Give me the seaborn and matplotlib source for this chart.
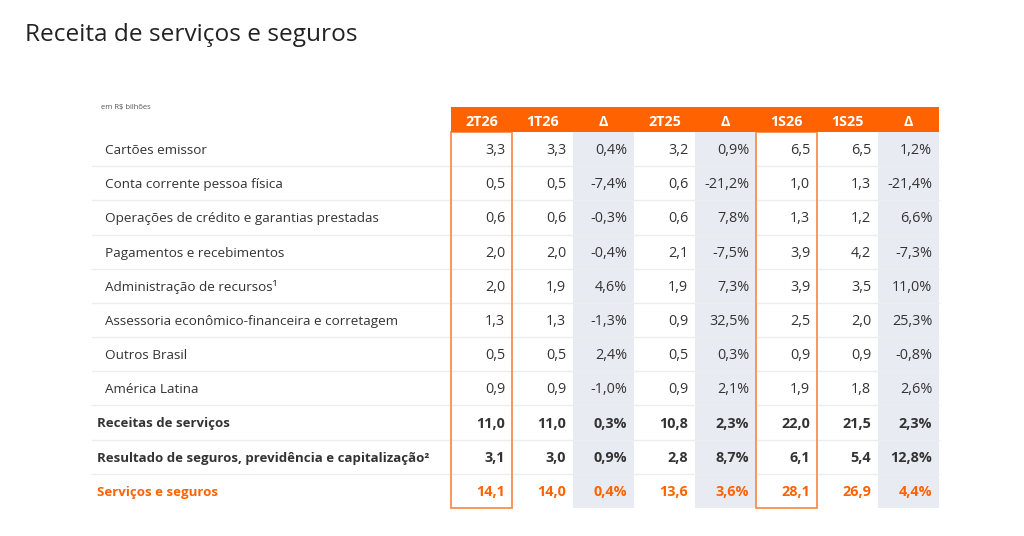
import matplotlib.pyplot as plt
import seaborn as sns
import numpy as np
from matplotlib.colors import ListedColormap
from matplotlib.patches import Rectangle

# table content
row_labels = [
    'Cartões emissor',
    'Conta corrente pessoa física',
    'Operações de crédito e garantias prestadas',
    'Pagamentos e recebimentos',
    'Administração de recursos¹',
    'Assessoria econômico-financeira e corretagem',
    'Outros Brasil',
    'América Latina',
    'Receitas de serviços',
    'Resultado de seguros, previdência e capitalização²',
    'Serviços e seguros',
]
bold_rows = [8, 9, 10]
highlight_row = 10

columns = ['2T26', '1T26', 'Δ', '2T25', 'Δ', '1S26', '1S25', 'Δ']
pct_cols = [2, 4, 7]
boxed_cols = [0, 5]

v_2t26 = [3.3, 0.5, 0.6, 2.0, 2.0, 1.3, 0.5, 0.9, 11.0, 3.1, 14.1]
v_1t26 = [3.3, 0.5, 0.6, 2.0, 1.9, 1.3, 0.5, 0.9, 11.0, 3.0, 14.0]
d_tri = [0.4, -7.4, -0.3, -0.4, 4.6, -1.3, 2.4, -1.0, 0.3, 0.9, 0.4]
v_2t25 = [3.2, 0.6, 0.6, 2.1, 1.9, 0.9, 0.5, 0.9, 10.8, 2.8, 13.6]
d_ano = [0.9, -21.2, 7.8, -7.5, 7.3, 32.5, 0.3, 2.1, 2.3, 8.7, 3.6]
v_1s26 = [6.5, 1.0, 1.3, 3.9, 3.9, 2.5, 0.9, 1.9, 22.0, 6.1, 28.1]
v_1s25 = [6.5, 1.3, 1.2, 4.2, 3.5, 2.0, 0.9, 1.8, 21.5, 5.4, 26.9]
d_sem = [1.2, -21.4, 6.6, -7.3, 11.0, 25.3, -0.8, 2.6, 2.3, 12.8, 4.4]

ORANGE = '#FF6200'
BOX = '#F8904F'
SHADE = '#E8EBF1'
TEXT = '#333333'
GRID = '#EDEDED'

sns.set_theme(style='white')
plt.rcParams['font.family'] = ['Open Sans', 'DejaVu Sans']

table = np.array([v_2t26, v_1t26, d_tri, v_2t25, d_ano, v_1s26, v_1s25, d_sem]).T
shade = np.zeros(table.shape)
shade[:, pct_cols] = 1

W, H = 1024, 536
fig = plt.figure(figsize=(W / 100, H / 100), dpi=100)
left, right, top_hdr, top, bottom = 451, 939, 107, 132, 508
ax = fig.add_axes([left / W, 1 - bottom / H, (right - left) / W, (bottom - top) / H])
hdr = fig.add_axes([left / W, 1 - top / H, (right - left) / W, (top - top_hdr) / H])

sns.heatmap(shade, ax=ax, cmap=ListedColormap(['white', SHADE]), cbar=False,
            xticklabels=False, yticklabels=False, linewidths=0, vmin=0, vmax=1)

n_rows, n_cols = table.shape
col_w_px = (right - left) / n_cols
label_x = -(left - 92) / col_w_px

# row separators
for r in range(1, n_rows):
    ax.plot([label_x, n_cols], [r, r], color=GRID, lw=1, clip_on=False, zorder=1)

# values
for r in range(n_rows):
    color = ORANGE if r == highlight_row else TEXT
    bold = r in bold_rows
    weight = 'bold' if bold else 'normal'
    for c in range(n_cols):
        v = table[r, c]
        s = f'{v:.1f}'.replace('.', ',') + ('%' if c in pct_cols else '')
        ax.text(c + 1 - 0.11, r + 0.54, s, ha='right', va='center',
                fontsize=10.4, color=color, fontweight=weight, zorder=3)
    lx = label_x + (0.08 if bold else 0.21)
    ax.text(lx, r + 0.54, row_labels[r], ha='left', va='center',
            fontsize=9.5 if bold else 9.7, color=color, fontweight=weight,
            clip_on=False, zorder=3)

# boxed columns
for c in boxed_cols:
    ax.add_patch(Rectangle((c, 0), 1, n_rows, fill=False, edgecolor=BOX,
                           lw=1.3, clip_on=False, zorder=4))

# header band
hdr.set_facecolor(ORANGE)
hdr.set_xlim(0, n_cols)
hdr.set_ylim(0, 1)
hdr.set_xticks([])
hdr.set_yticks([])
for s in hdr.spines.values():
    s.set_visible(False)
for c, name in enumerate(columns):
    hdr.text(c + 0.5, 0.4, name, ha='center', va='center', color='white',
             fontsize=10.3, fontweight='bold')

fig.text(101 / W, 1 - 107 / H, 'em R$ bilhões', fontsize=5.5, color='#555555',
         ha='left', va='center')
fig.text(25 / W, 1 - 35 / H, 'Receita de serviços e seguros', fontsize=17.6,
         color='#222222', ha='left', va='center')

fig.savefig('out.png', dpi=100)
